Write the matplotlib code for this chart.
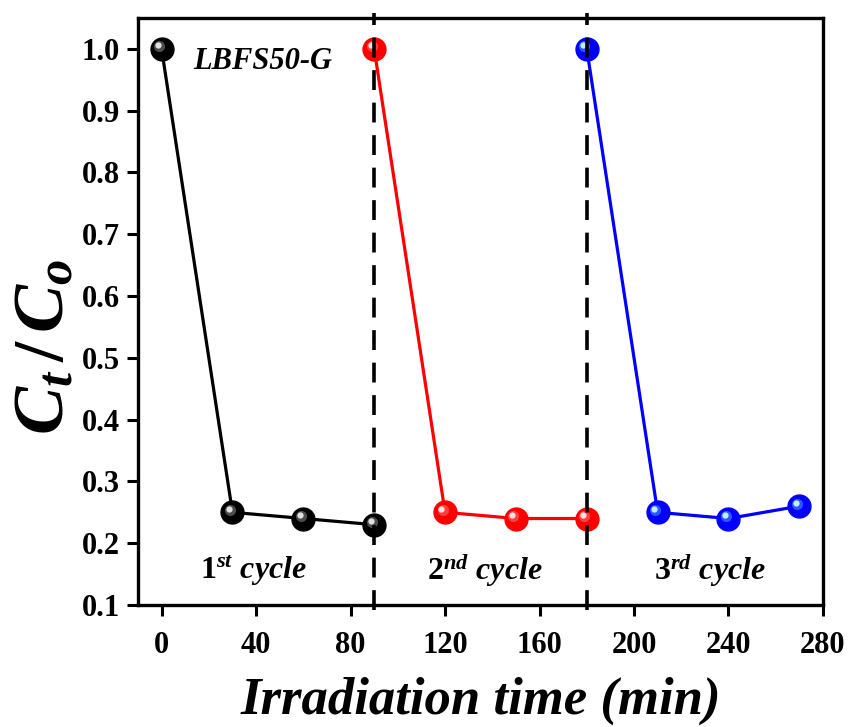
import matplotlib
matplotlib.use("Agg")
import matplotlib.pyplot as plt
from matplotlib.transforms import offset_copy

plt.rcParams['font.family'] = 'Liberation Serif'
plt.rcParams['font.weight'] = 'bold'
plt.rcParams['mathtext.fontset'] = 'custom'
plt.rcParams['mathtext.it'] = 'Liberation Serif:italic:bold'
plt.rcParams['mathtext.rm'] = 'Liberation Serif:bold'
plt.rcParams['mathtext.bf'] = 'Liberation Serif:bold'

# data
t1 = [0, 30, 60, 90]
c1 = [1.0, 0.25, 0.24, 0.23]
t2 = [90, 120, 150, 180]
c2 = [1.0, 0.25, 0.24, 0.24]
t3 = [180, 210, 240, 270]
c3 = [1.0, 0.25, 0.24, 0.26]
colors = ['black', 'red', 'blue']
midtone = ['#606060', '#ff5050', '#3a6cff']
hilite = ['#e0e0e0', '#ffe0e0', '#c0f0ff']
cycle_x = [39, 137, 232]
cycle_labels = [r'$\mathit{1}^{st}$ cycle', r'$\mathit{2}^{nd}$ cycle', r'$\mathit{3}^{rd}$ cycle']
xticks = [0, 40, 80, 120, 160, 200, 240, 280]
yticks = [0.1, 0.2, 0.3, 0.4, 0.5, 0.6, 0.7, 0.8, 0.9, 1.0]

fig = plt.figure(figsize=(8.48, 7.27), dpi=100)
ax = fig.add_axes([0.1627, 0.1678, 0.8078, 0.8074])

for t, c, col, mt, hl in zip([t1, t2, t3], [c1, c2, c3], colors, midtone, hilite):
    ax.plot(t, c, '-', color=col, lw=2.3, zorder=3)
    ax.plot(t, c, 'o', color=col, ms=16.5, mec=col, zorder=4)
    tr1 = offset_copy(ax.transData, fig=fig, x=-1.8, y=1.8, units='points')
    ax.plot(t, c, 'o', color=mt, ms=8, mec='none', alpha=0.8, zorder=5, transform=tr1)
    tr2 = offset_copy(ax.transData, fig=fig, x=-2.6, y=2.6, units='points')
    ax.plot(t, c, 'o', color=hl, ms=4.5, mec='none', zorder=6, transform=tr2)

for xv in [90, 180]:
    ax.axvline(xv, ymin=-0.008, ymax=1.008, color='black', lw=2.6,
               dashes=(5.5, 3.5), clip_on=False, zorder=7)

ax.text(43, 0.98, 'LBFS50-G', fontsize=22, fontstyle='italic', fontweight='bold',
        ha='center', va='center')
for x, lab in zip(cycle_x, cycle_labels):
    ax.text(x, 0.155, lab, fontsize=23, fontstyle='italic', fontweight='bold',
            ha='center', va='center')

ax.set_xlim(-10, 280)
ax.set_ylim(0.1, 1.05)
ax.set_xticks(xticks)
ax.set_yticks(yticks)
ax.set_xticklabels([str(v) for v in xticks])
ax.set_yticklabels(['%.1f' % v for v in yticks])
ax.tick_params(axis='x', direction='out', length=8, width=2.2, labelsize=22, pad=10.5)
ax.tick_params(axis='y', direction='out', length=8, width=2.2, labelsize=22, pad=5)
for s in ax.spines.values():
    s.set_linewidth(2.4)

ax.set_xlabel('Irradiation time (min)', fontsize=38, fontstyle='italic',
              fontweight='bold', labelpad=12)
ax.set_ylabel(r'$C_t\,/\,C_o$', fontsize=52, labelpad=2)
ax.yaxis.label.set_y(0.44)

fig.savefig('out.png', dpi=100)
